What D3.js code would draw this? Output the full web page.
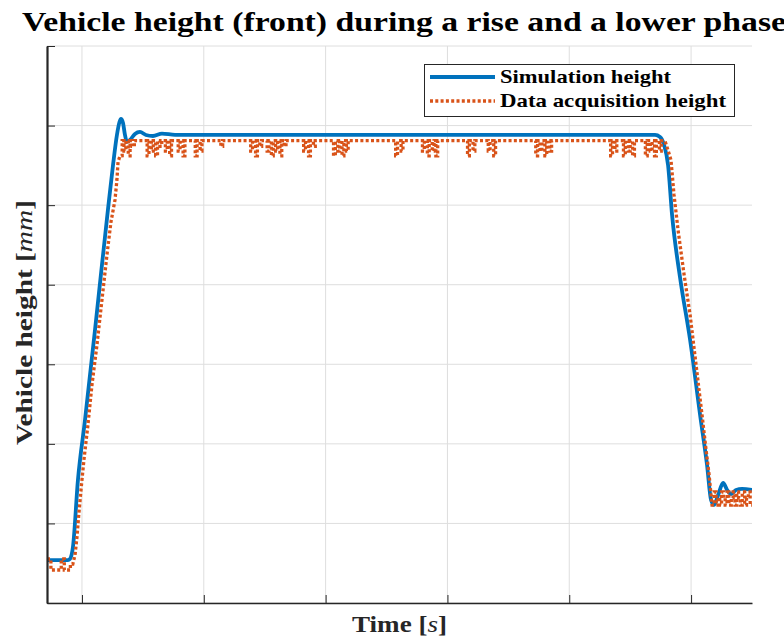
<!DOCTYPE html>
<html><head><meta charset="utf-8">
<script src="https://cdn.jsdelivr.net/npm/d3@7"></script>
<style>body{margin:0;background:#fff}</style>
</head><body><svg id="c" width="784" height="639"></svg>
<script>
// ---- data ----
const titleText = "Vehicle height (front) during a rise and a lower phase";
const xTicks = [10, 20, 30, 40, 50, 60];
const yTicks = [0, 10, 20, 30, 40, 50, 60, 70];
const xDomain = [7.13, 65.0];
const yDomain = [0, 70];
const seriesNames = ["Simulation height", "Data acquisition height"];

// simulation height [t (s), h (mm)]
const simPts = [
 [7.13,5.40],[8.85,5.40],[9.01,5.53],[9.26,7.04],[9.67,15.46],[10.25,23.00],[11.07,34.31],
 [11.64,42.48],[12.13,49.39],[12.55,55.05],[12.87,58.82],[13.08,60.45],[13.20,60.83],
 [13.37,60.32],[13.53,58.82],[13.69,57.94],[13.94,58.19],[14.35,58.95],[14.76,59.20],
 [15.25,58.82],[15.83,58.69],[16.57,59.00],[17.64,58.82],[57.04,58.82],[57.45,58.57],
 [57.78,57.56],[58.11,55.05],[58.44,48.76],[59.10,40.84],[59.92,33.05],[60.74,23.63],
 [61.31,17.34],[61.64,12.94],[61.88,12.32],[62.22,13.57],[62.63,15.08],[62.96,14.20],
 [63.28,13.70],[63.69,14.20],[64.18,14.33],[65.00,14.20]
];

// data acquisition height, quantized sensor samples [t, h]
const daqStart = [
 [7.13,5.53],[7.45,5.53],[7.45,4.15],[8.30,4.15],[8.30,5.53],[8.55,5.53],[8.55,4.15],
 [9.05,4.15],[9.05,4.90],[9.25,4.90]
];
const daqRise = [
 [9.43,6.03],[9.59,8.29],[9.75,11.31],[9.92,14.20],[10.16,17.97],[10.49,22.37],[10.82,27.40],
 [11.23,32.42],[11.64,38.08],[12.05,43.74],[12.38,47.88],[12.71,50.65],[12.87,53.16],
 [12.96,55.42],[13.12,56.18]
];
const daqTop = [
 [13.30,56.2],[13.30,58.1],[13.45,58.1],[13.45,56.8],[13.60,56.8],[13.60,58.1],[13.80,58.1],[13.80,56.2],[13.95,56.2],[13.95,58.1],[14.10,58.1],[14.10,57.4],[14.30,57.4],[14.30,58.1],
 [15.35,58.1],[15.35,56.2],[15.50,56.2],[15.50,58.1],[15.70,58.1],[15.70,56.8],[15.85,56.8],[15.85,58.1],[16.05,58.1],[16.05,56.2],[16.20,56.2],[16.20,58.1],[16.40,58.1],[16.40,57.4],[16.55,57.4],[16.55,58.1],
 [16.85,58.1],[16.85,56.8],[17.00,56.8],[17.00,58.1],[17.20,58.1],[17.20,56.2],[17.35,56.2],[17.35,58.1],
 [17.90,58.1],[17.90,56.8],[18.05,56.8],[18.05,58.1],[18.30,58.1],[18.30,56.2],[18.45,56.2],[18.45,58.1],
 [19.30,58.1],[19.30,56.2],[19.45,56.2],[19.45,58.1],[19.70,58.1],[19.70,56.8],[19.85,56.8],[19.85,58.1],
 [21.40,58.1],[21.40,57.4],[21.55,57.4],[21.55,58.1],
 [23.85,58.1],[23.85,56.8],[24.00,56.8],[24.00,58.1],[24.25,58.1],[24.25,56.2],[24.40,56.2],[24.40,58.1],[24.60,58.1],[24.60,57.4],[24.75,57.4],[24.75,58.1],
 [25.20,58.1],[25.20,56.8],[25.35,56.8],[25.35,58.1],[25.55,58.1],[25.55,56.2],[25.70,56.2],[25.70,58.1],[25.90,58.1],[25.90,56.8],[26.05,56.8],[26.05,58.1],[26.25,58.1],[26.25,56.2],[26.40,56.2],[26.40,58.1],[26.60,58.1],[26.60,57.4],[26.75,57.4],[26.75,58.1],
 [28.20,58.1],[28.20,56.8],[28.35,56.8],[28.35,58.1],[28.60,58.1],[28.60,56.2],[28.75,56.2],[28.75,58.1],[29.00,58.1],[29.00,57.4],[29.15,57.4],[29.15,58.1],
 [30.65,58.1],[30.65,56.2],[30.80,56.2],[30.80,58.1],[31.00,58.1],[31.00,56.8],[31.15,56.8],[31.15,58.1],[31.35,58.1],[31.35,56.2],[31.50,56.2],[31.50,58.1],[31.70,58.1],[31.70,56.8],[31.85,56.8],[31.85,58.1],
 [35.75,58.1],[35.75,56.2],[35.90,56.2],[35.90,58.1],[36.20,58.1],[36.20,56.8],[36.35,56.8],[36.35,58.1],
 [37.95,58.1],[37.95,56.8],[38.10,56.8],[38.10,58.1],[38.35,58.1],[38.35,56.2],[38.50,56.2],[38.50,58.1],[38.75,58.1],[38.75,56.8],[38.90,56.8],[38.90,58.1],[39.05,58.1],[39.05,56.2],[39.20,56.2],[39.20,58.1],
 [41.65,58.1],[41.65,56.2],[41.80,56.2],[41.80,58.1],[42.10,58.1],[42.10,56.8],[42.25,56.8],[42.25,58.1],
 [43.35,58.1],[43.35,56.8],[43.50,56.8],[43.50,58.1],[43.80,58.1],[43.80,56.2],[43.95,56.2],[43.95,58.1],
 [47.25,58.1],[47.25,56.2],[47.40,56.2],[47.40,58.1],[47.60,58.1],[47.60,56.8],[47.75,56.8],[47.75,58.1],[48.00,58.1],[48.00,56.2],[48.15,56.2],[48.15,58.1],[48.40,58.1],[48.40,56.8],[48.55,56.8],[48.55,58.1],
 [53.40,58.1],[53.40,56.2],[53.55,56.2],[53.55,58.1],[53.75,58.1],[53.75,56.8],[53.90,56.8],[53.90,58.1],
 [54.45,58.1],[54.45,56.2],[54.60,56.2],[54.60,58.1],[54.85,58.1],[54.85,56.8],[55.00,56.8],[55.00,58.1],[55.20,58.1],[55.20,56.2],[55.35,56.2],[55.35,58.1],
 [56.25,58.1],[56.25,56.2],[56.40,56.2],[56.40,58.1],[56.65,58.1],[56.65,56.8],[56.80,56.8],[56.80,58.1],[57.00,58.1],[57.00,56.2],[57.15,56.2],[57.15,58.1],[57.40,58.1],[57.40,56.8],[57.55,56.8],[57.55,58.1]
];
const daqFall = [
 [57.86,58.06],[58.10,56.93],[58.35,55.67],[58.60,51.28],[58.93,46.88],[59.43,41.22],
 [59.92,36.19],[60.41,29.91],[60.90,23.63],[61.23,19.23],[61.48,16.09],[61.72,12.30]
];
const daqEnd = [
 [61.90,12.3],[61.90,13.95],[62.05,13.95],[62.05,12.3],[62.20,12.3],[62.20,13.2],[62.35,13.2],[62.35,12.3],
 [62.50,12.3],[62.50,13.95],[62.65,13.95],[62.65,13.2],[62.80,13.2],[62.80,12.3],[62.95,12.3],[62.95,13.95],
 [63.10,13.95],[63.10,12.3],[63.30,12.3],[63.30,13.2],[63.45,13.2],[63.45,13.95],[63.60,13.95],[63.60,12.3],
 [63.75,12.3],[63.75,13.95],[63.90,13.95],[63.90,13.2],[64.05,13.2],[64.05,12.3],[64.20,12.3],[64.20,13.95],
 [64.40,13.95],[64.40,12.3],[64.55,12.3],[64.55,13.2],[64.70,13.2],[64.70,13.95],[64.85,13.95],[64.85,12.3],[65.00,12.3]
];
const daqPts = daqStart.concat(daqRise, daqTop, daqFall, daqEnd);

// ---- layout ----
const L = 47, R = 752, T = 46, B = 603;
const blue = "#0072BD", orange = "#D95319", axisCol = "#262626";
const serif = "'Times New Roman','Liberation Serif',Tinos,serif";

const svg = d3.select("#c");
const x = d3.scaleLinear().domain(xDomain).range([L, R]);
const y = d3.scaleLinear().domain(yDomain).range([B, T]);

// grid
svg.append("g").selectAll("line").data(xTicks).join("line")
  .attr("x1", d => x(d)).attr("x2", d => x(d)).attr("y1", T).attr("y2", B)
  .attr("stroke", "#dedede").attr("stroke-width", 1);
svg.append("g").selectAll("line").data(yTicks).join("line")
  .attr("x1", L).attr("x2", R).attr("y1", d => y(d)).attr("y2", d => y(d))
  .attr("stroke", "#dedede").attr("stroke-width", 1);

// clip
svg.append("clipPath").attr("id", "pc").append("rect")
  .attr("x", L).attr("y", T - 5).attr("width", R - L).attr("height", B - T + 5);

const g = svg.append("g").attr("clip-path", "url(#pc)");
g.append("path").attr("d", d3.line().x(d => x(d[0])).y(d => y(d[1])).curve(d3.curveMonotoneX)(simPts))
  .attr("fill", "none").attr("stroke", blue).attr("stroke-width", 3.8)
  .attr("stroke-linejoin", "round");
g.append("path").attr("d", d3.line().x(d => x(d[0])).y(d => y(d[1]))(daqPts))
  .attr("fill", "none").attr("stroke", orange).attr("stroke-width", 3.3)
  .attr("stroke-dasharray", "3,2.3");

// axes
const ax = svg.append("g").attr("transform", `translate(0,${B})`)
  .call(d3.axisBottom(x).tickValues(xTicks).tickSize(-8).tickSizeOuter(0).tickFormat(""));
const ay = svg.append("g").attr("transform", `translate(${L},0)`)
  .call(d3.axisLeft(y).tickValues(yTicks).tickSize(-8).tickSizeOuter(0).tickFormat(""));
ax.select(".domain").attr("stroke", axisCol).attr("stroke-width", 1.6);
ay.select(".domain").attr("stroke", axisCol).attr("stroke-width", 2.2);
svg.selectAll(".tick line").attr("stroke", axisCol).attr("stroke-width", 1);

// title
svg.append("text").attr("x", 22).attr("y", 31)
  .attr("font-family", serif).attr("font-weight", "bold").attr("font-size", 27)
  .attr("textLength", 764).attr("lengthAdjust", "spacingAndGlyphs")
  .attr("fill", "#000").text(titleText);

// x label
const xl = svg.append("text").attr("x", 352).attr("y", 632)
  .attr("font-family", serif).attr("font-weight", "bold").attr("font-size", 24)
  .attr("fill", axisCol).attr("textLength", 95).attr("lengthAdjust", "spacingAndGlyphs");
xl.append("tspan").text("Time [");
xl.append("tspan").attr("font-style", "italic").attr("font-weight", "normal").text("s");
xl.append("tspan").text("]");

// y label
const yl = svg.append("text").attr("transform", `translate(32,445) rotate(-90)`)
  .attr("font-family", serif).attr("font-weight", "bold").attr("font-size", 24)
  .attr("fill", axisCol).attr("textLength", 245).attr("lengthAdjust", "spacingAndGlyphs");
yl.append("tspan").text("Vehicle height [");
yl.append("tspan").attr("font-style", "italic").attr("font-weight", "normal").text("mm");
yl.append("tspan").text("]");

// legend
const lg = svg.append("g");
lg.append("rect").attr("x", 424.5).attr("y", 64.5).attr("width", 310).attr("height", 52)
  .attr("fill", "#fff").attr("stroke", "#262626").attr("stroke-width", 1);
const legY = [77, 101];
const legLen = [171, 226];
[blue, orange].forEach((c, i) => {
  const ln = lg.append("line").attr("x1", 430).attr("x2", 495).attr("y1", legY[i]).attr("y2", legY[i])
    .attr("stroke", c).attr("stroke-width", i === 0 ? 3.8 : 3.3);
  if (i === 1) ln.attr("stroke-dasharray", "3,2.3");
  lg.append("text").attr("x", 500).attr("y", legY[i] + 6)
    .attr("font-family", serif).attr("font-weight", "bold").attr("font-size", 19)
    .attr("fill", "#000").attr("textLength", legLen[i]).attr("lengthAdjust", "spacingAndGlyphs")
    .text(seriesNames[i]);
});
</script></body></html>
